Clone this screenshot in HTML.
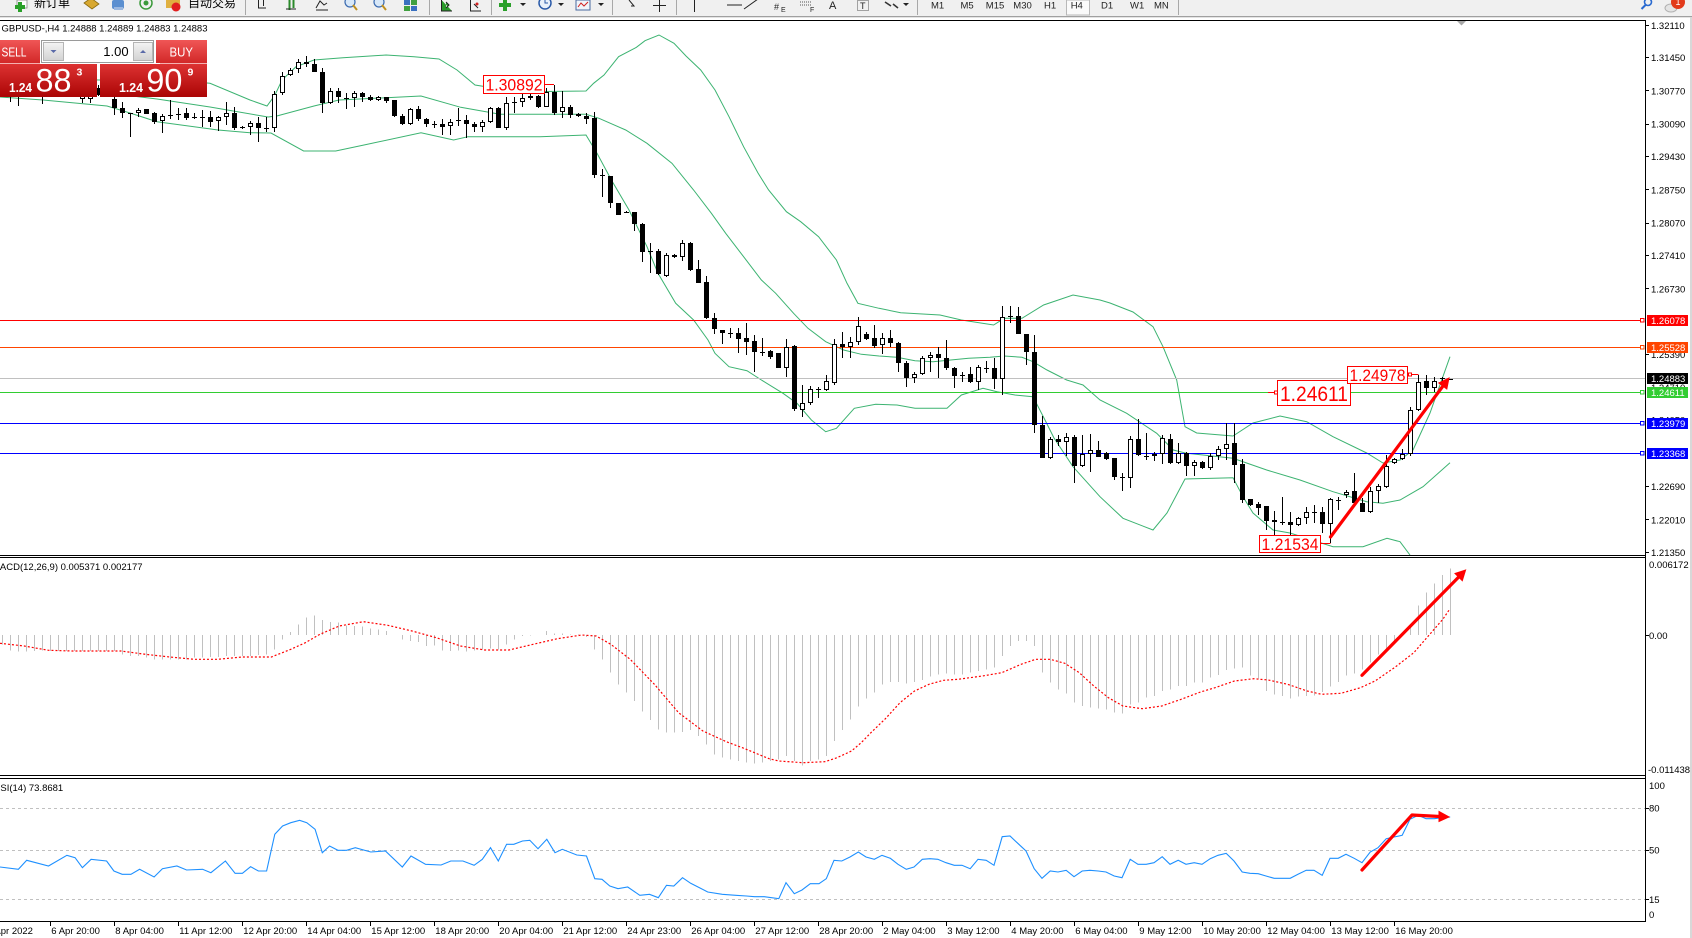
<!DOCTYPE html>
<html><head><meta charset="utf-8"><style>
html,body{margin:0;padding:0;background:#fff;}
svg{display:block;}
text{font-family:"Liberation Sans","Noto Sans CJK SC",sans-serif;}
</style></head><body>
<svg width="1692" height="938" viewBox="0 0 1692 938" xmlns="http://www.w3.org/2000/svg">
<defs>
<clipPath id="cm"><rect x="0" y="21" width="1645" height="534"/></clipPath>
<clipPath id="cd"><rect x="0" y="558" width="1645" height="217"/></clipPath>
<clipPath id="cr"><rect x="0" y="779" width="1645" height="142"/></clipPath>
<linearGradient id="gb" x1="0" y1="0" x2="0" y2="1"><stop offset="0" stop-color="#f05656"/><stop offset="1" stop-color="#d22828"/></linearGradient>
<linearGradient id="gp" x1="0" y1="0" x2="0" y2="1"><stop offset="0" stop-color="#dd3232"/><stop offset="1" stop-color="#ab0505"/></linearGradient>
<linearGradient id="gbt" x1="0" y1="0" x2="0" y2="1"><stop offset="0" stop-color="#f4f4f4"/><stop offset="1" stop-color="#d2d2d2"/></linearGradient>
</defs>
<rect x="0" y="0" width="1692" height="938" fill="#fff"/>

<!-- toolbar -->
<rect x="0" y="0" width="1692" height="16" fill="#f0f0f0"/>
<line x1="0" y1="16.5" x2="1692" y2="16.5" stroke="#a0a0a0"/>
<line x1="0" y1="17.5" x2="1692" y2="17.5" stroke="#e4e4e4"/>
<rect x="17" y="0" width="10" height="8" fill="#fff" stroke="#888" stroke-width="0.8"/>
<rect x="18" y="2" width="4" height="10" fill="#2aa02a"/><rect x="15" y="5" width="10" height="4" fill="#2aa02a"/>
<text x="34" y="7" font-size="12" fill="#000">新订单</text>
<polygon points="84,3 91,-2 99,4 92,9" fill="#d8a830" stroke="#8a6a10" stroke-width="0.8"/>
<rect x="112" y="0" width="12" height="9" rx="2" fill="#5b8fd0"/><rect x="114" y="7" width="9" height="3" fill="#9bb8e0"/>
<circle cx="146" cy="3" r="6" fill="none" stroke="#3a9a3a" stroke-width="1.5"/><circle cx="146" cy="3" r="2.5" fill="#3a9a3a"/>
<rect x="166" y="0" width="14" height="8" fill="#e0b040"/><circle cx="176" cy="7" r="4.5" fill="#e02020"/>
<text x="188" y="7" font-size="12" fill="#000">自动交易</text>
<g stroke="#a8a8a8"><line x1="245.5" y1="0" x2="245.5" y2="15"/><line x1="429.5" y1="0" x2="429.5" y2="15"/><line x1="491.5" y1="0" x2="491.5" y2="15"/><line x1="612.5" y1="0" x2="612.5" y2="15"/><line x1="676.5" y1="0" x2="676.5" y2="15"/><line x1="917.5" y1="0" x2="917.5" y2="15"/><line x1="1178.5" y1="0" x2="1178.5" y2="15"/></g>
<g stroke="#222" fill="none">
<path d="M258.5 0V8H266M263.5 0V6"/><path d="M289.5 0V10M293.5 0V8" stroke="#2a8a2a" stroke-width="2"/><path d="M286 9H296"/>
<path d="M316 8L320 1L324 5L327 3"/><path d="M316 10H328"/>
<path d="M727 5H742"/><path d="M744 9L758 -1"/><path d="M694.5 0V12"/>
<path d="M629 0L634 6L631 6"/><path d="M659.5 0V12M653 5.5H666"/>
</g>
<circle cx="350" cy="2" r="5" fill="#d8e8f8" stroke="#3a6ab0" stroke-width="1.2"/><line x1="353" y1="5" x2="357" y2="10" stroke="#c09020" stroke-width="2"/>
<circle cx="379" cy="2" r="5" fill="#d8e8f8" stroke="#3a6ab0" stroke-width="1.2"/><line x1="382" y1="5" x2="386" y2="10" stroke="#c09020" stroke-width="2"/>
<rect x="404" y="0" width="6" height="5" fill="#3a70c0"/><rect x="411" y="0" width="6" height="5" fill="#40a040"/><rect x="404" y="6" width="6" height="5" fill="#40a040"/><rect x="411" y="6" width="6" height="5" fill="#3a70c0"/>
<path d="M441.5 0V11H452M446 2L449 5L446 8" stroke="#222" fill="#2a9a2a"/>
<path d="M470.5 0V11H481M474 4L478 8" stroke="#222" fill="none"/><circle cx="477" cy="4" r="1.5" fill="#d02020"/>
<rect x="503" y="0" width="4" height="11" fill="#2aa02a"/><rect x="499" y="3" width="12" height="4" fill="#2aa02a"/><polygon points="520,3 526,3 523,6" fill="#222"/>
<circle cx="545" cy="3" r="6" fill="#e8f0fa" stroke="#2a5aa8" stroke-width="1.5"/><path d="M545 0V3H548" stroke="#2a5aa8" fill="none"/><polygon points="558,3 564,3 561,6" fill="#222"/>
<rect x="576" y="0" width="14" height="10" fill="#f0f4fa" stroke="#4a6aa0"/><path d="M578 7L581 3L584 6L588 2" stroke="#d02020" fill="none"/><polygon points="598,3 604,3 601,6" fill="#222"/>
<text x="774" y="10" font-size="9" fill="#222">#</text><text x="781" y="12" font-size="7" fill="#222">E</text>
<path d="M800 2H812M800 5H812" stroke="#555" stroke-dasharray="1 1"/><text x="810" y="12" font-size="7" fill="#222">F</text>
<text x="829" y="9" font-size="11" fill="#222">A</text>
<rect x="857.5" y="0.5" width="11" height="10" fill="none" stroke="#555" stroke-dasharray="1 1"/><text x="860" y="9" font-size="9" fill="#222">T</text>
<path d="M885 2L891 6M893 4L898 8" stroke="#333" stroke-width="1.6"/><polygon points="903,3 909,3 906,6" fill="#222"/>
<rect x="1066.5" y="0" width="23" height="15" fill="#fafafa" stroke="#b8b8b8"/>
<g font-size="9.5" fill="#222">
<text x="931" y="8.5">M1</text><text x="960.5" y="8.5">M5</text><text x="985.8" y="8.5">M15</text><text x="1013.3" y="8.5">M30</text><text x="1044" y="8.5">H1</text><text x="1070.7" y="8.5">H4</text><text x="1101" y="8.5">D1</text><text x="1130" y="8.5">W1</text><text x="1154" y="8.5">MN</text>
</g>
<circle cx="1648" cy="2" r="3.5" fill="none" stroke="#2a6ad0" stroke-width="1.6"/><line x1="1645.5" y1="5" x2="1641.5" y2="9" stroke="#2a6ad0" stroke-width="2"/>
<ellipse cx="1671" cy="8" rx="6" ry="4" fill="#e4e4e4" stroke="#b0b0b0"/>
<circle cx="1678" cy="2" r="7" fill="#e23a1a"/><text x="1675.5" y="5" font-size="9" fill="#fff">1</text>

<!-- right strip -->
<rect x="1690" y="17" width="2" height="921" fill="#d8d8d8"/>

<!-- title -->
<text x="1.5" y="31.5" font-size="9.5" fill="#000">GBPUSD-,H4  1.24888 1.24889 1.24883 1.24883</text>

<!-- main chart -->
<g clip-path="url(#cm)">
<g fill="none" stroke="#3cb371" stroke-width="1">
<polyline points="0,78 100,80 207,83 210,83.3 250,100 267,106 275,95 282,80 296,66.7 314,60 343,57.7 386,55 414,56.7 439,59 457,70 475,85 486,86.7 546,91.5 586,91 593.6,83.3 604,75 618.6,56.7 636.4,47.3 645,40.7 659,35 674,43.3 686,56 700.7,70 715,90 729,116.7 743.6,146.7 758,173 768.6,190 786.4,211.7 800.7,221.7 818.6,236.7 836.4,260 847,283.3 857.9,303.3 879,308.3 900.7,312.7 940,315 961.4,320 993.6,325 1004.3,318.3 1022,318.3 1043.6,305 1073,295 1100,300 1110,303 1133,312 1153,326.7 1163,346.7 1176.7,380 1185,426.7 1196.7,433 1233,436 1253,423 1280,416 1306.7,421.7 1333,436.7 1366.7,453 1383,463 1400,460 1413,450 1430,413 1450,356.7"/>
<polyline points="0,90 100,92 157,99 210,107 268,117 276.8,116 314,106 339,100 421,96 460.7,107.3 500,114.3 540,114.3 586,114.3 599,118.3 625.7,130 647,143.3 672,163.3 693.6,190 711.4,213.3 725.7,233.3 743.6,256.7 761.4,280 775.7,293.3 793.6,313.3 808,328.3 825.7,341.7 843.6,350 861.4,354.3 879,356 897,357.3 915,360.7 933,361.7 950.7,360 968.6,358.3 990,357.3 1004.3,356 1022,357.3 1033,361.7 1047,370 1066.7,380 1083,385 1100,400 1126.7,413.3 1156.7,433.3 1173.3,450 1186.7,453.3 1233,458.3 1266.7,470 1300,480 1333,491.7 1366.7,501.7 1383,503.3 1400,500 1423,486.7 1450,462.7"/>
<polyline points="0,97 43,100 107,106 130,113 157,121.7 218,130 250,132.7 271,133 303.6,151 335.7,151 364,145 421,132.7 453.6,140 468,136.7 540,136.7 586,135 597,153.3 611.4,180 629,210 647,246.7 658,273.3 675.7,303.3 693.6,320 708,340 715,353.3 729,366.7 747,370.7 761.4,380 783,393.3 797,403.3 811.4,420 825.7,431.7 836.4,428.3 854.3,408.3 875.7,404.3 897,405 915,408.3 947,408.3 961.4,395 983,388.3 997,391.7 1015,395 1033,396.7 1045,420 1054,438 1073,466.7 1100,496.7 1123,518.3 1153,530 1167,513 1185,479 1233,477.7 1243,496.7 1253,513 1273,530 1290,533 1333,546.7 1363,546.7 1387,538.3 1400,541.7 1410,555"/>
</g>
<g shape-rendering="crispEdges">
<line x1="0" y1="320.5" x2="1641" y2="320.5" stroke="#ff0000"/>
<line x1="0" y1="347.5" x2="1641" y2="347.5" stroke="#ff4500"/>
<line x1="0" y1="378.5" x2="1645" y2="378.5" stroke="#c0c0c0"/>
<line x1="0" y1="392.5" x2="1641" y2="392.5" stroke="#32cd32"/>
<line x1="0" y1="423.5" x2="1641" y2="423.5" stroke="#0000ff"/>
<line x1="0" y1="453.5" x2="1641" y2="453.5" stroke="#0000ff"/>
</g>
<g fill="#fff" shape-rendering="crispEdges">
<rect x="1640.5" y="318.5" width="3.5" height="3.5" stroke="#ff0000"/>
<rect x="1640.5" y="345.5" width="3.5" height="3.5" stroke="#ff4500"/>
<rect x="1640.5" y="390.5" width="3.5" height="3.5" stroke="#32cd32"/>
<rect x="1640.5" y="421.5" width="3.5" height="3.5" stroke="#0000ff"/>
<rect x="1640.5" y="451.5" width="3.5" height="3.5" stroke="#0000ff"/>
</g>
<g shape-rendering="crispEdges">
<path stroke="#000" stroke-width="1" fill="none" d="M2.5 84V96M10.5 86V102M18.5 86V106M26.5 83V95M34.5 84V95M42.5 86V104M50.5 82V95M58.5 85V94M66.5 83V95M74.5 85V96M82.5 88V103M90.5 89V103M98.5 85V96M106.5 87V96M114.5 97V115M122.5 102V118M130.5 113V137M138.5 108V117M146.5 109V114M154.5 112V124M162.5 114V133M170.5 100V119M178.5 108V120M186.5 108V120M194.5 113V119M202.5 110V127M210.5 111V127M218.5 116V131M226.5 102V125M234.5 107V130M242.5 126V129M250.5 121V135M258.5 117V142M266.5 117V132M274.5 91V132M282.5 72V95M290.5 68V76M298.5 59V73M306.5 56V67M314.5 59V72M322.5 68V113M330.5 88V104M338.5 88V103M346.5 93V109M354.5 91V107M362.5 92V102M370.5 95V101M378.5 96V101M386.5 97V103M394.5 100V117M402.5 114V125M410.5 108V125M418.5 106V121M426.5 118V127M434.5 121V128M442.5 119V135M450.5 119V135M458.5 108V126M466.5 115V138M474.5 122V132M482.5 120V132M490.5 107V123M498.5 107V128M506.5 97V130M514.5 97V113M522.5 94V107M530.5 93V100M538.5 95V108M546.5 88V107M554.5 85V115M562.5 91V118M570.5 105V118M578.5 113V117M586.5 113V124M594.5 112V178M602.5 169V197M610.5 176V208M618.5 203V215M626.5 211V213M634.5 212V231M642.5 223V262M650.5 243V273M658.5 249V275M666.5 253V277M674.5 254V258M682.5 240V261M690.5 242V271M698.5 260V283M706.5 276V319M714.5 313V334M722.5 330V344M730.5 328V338M738.5 328V353M746.5 323V355M754.5 335V372M762.5 338V356M770.5 350V359M778.5 353V368M786.5 339V377M794.5 345V411M802.5 385V417M810.5 386V405M818.5 387V398M826.5 375V391M834.5 339V385M842.5 332V358M850.5 337V358M858.5 317V345M866.5 332V340M874.5 325V348M882.5 333V354M890.5 330V347M898.5 342V372M906.5 361V387M914.5 372V383M922.5 356V375M930.5 352V372M938.5 347V378M946.5 340V370M954.5 367V388M962.5 372V382M970.5 367V383M978.5 365V390M986.5 361V373M994.5 358V389M1002.5 306V395M1010.5 306V323M1018.5 307V334M1026.5 334V365M1034.5 335V433M1042.5 416V458M1050.5 437V459M1058.5 435V446M1066.5 433V456M1074.5 435V483M1082.5 435V467M1090.5 434V472M1098.5 441V457M1106.5 452V460M1114.5 458V480M1122.5 473V491M1130.5 436V488M1138.5 419V456M1146.5 433V460M1154.5 452V461M1162.5 435V464M1170.5 434V464M1178.5 443V464M1186.5 452V476M1194.5 460V476M1202.5 461V469M1210.5 453V470M1218.5 446V460M1226.5 423V460M1234.5 423V483M1242.5 459V503M1250.5 499V506M1258.5 502V515M1266.5 506V530M1274.5 511V537M1282.5 497V525M1290.5 512V535M1298.5 517V526M1306.5 507V524M1314.5 505V523M1322.5 507V533M1330.5 498V543M1338.5 497V510M1346.5 490V498M1354.5 473V504M1362.5 498V512M1370.5 487V513M1378.5 484V503M1386.5 455V488M1394.5 458V464M1402.5 449V460M1410.5 407V456M1418.5 375V411M1426.5 375V395M1434.5 377V392M1442.5 377V382M56 88.5h5M128 113.5h5M168 115.5h5M176 114.5h5M192 117.5h5M200 117.5h5M240 127.5h5M264 128.5h5M344 98.5h5M432 124.5h5M456 120.5h5M512 102.5h5M600 175.5h5M624 212.5h5M648 251.5h5M728 333.5h5M760 352.5h5M816 389.5h5M960 375.5h5M984 368.5h5M1008 316.5h5M1120 477.5h5M1144 456.5h5M1280 522.5h5M1312 512.5h5M1336 500.5h5M1440 378.5h5M1448 379.5h5"/>
<path fill="#000" d="M0 88h5v7h-5zM8 90h5v6h-5zM24 86h5v6h-5zM40 90h5v6h-5zM64 86h5v6h-5zM96 88h5v7h-5zM112 99h5v9h-5zM120 108h5v5h-5zM144 109h5v5h-5zM152 113h5v9h-5zM184 113h5v5h-5zM208 117h5v5h-5zM232 113h5v15h-5zM256 123h5v5h-5zM304 62h5v2h-5zM312 64h5v8h-5zM320 72h5v31h-5zM336 91h5v6h-5zM360 93h5v4h-5zM368 97h5v3h-5zM384 97h5v4h-5zM392 100h5v16h-5zM400 116h5v8h-5zM416 109h5v10h-5zM424 119h5v5h-5zM440 124h5v3h-5zM464 120h5v4h-5zM472 124h5v3h-5zM496 108h5v20h-5zM536 96h5v11h-5zM552 92h5v21h-5zM568 107h5v8h-5zM576 114h5v2h-5zM584 116h5v3h-5zM592 118h5v57h-5zM608 176h5v27h-5zM616 203h5v12h-5zM632 212h5v12h-5zM640 224h5v28h-5zM656 251h5v23h-5zM672 255h5v2h-5zM688 243h5v27h-5zM696 269h5v14h-5zM704 282h5v36h-5zM712 318h5v11h-5zM720 330h5v3h-5zM736 333h5v6h-5zM744 338h5v4h-5zM752 341h5v11h-5zM768 351h5v6h-5zM776 353h5v15h-5zM792 346h5v63h-5zM840 344h5v3h-5zM864 334h5v5h-5zM872 338h5v8h-5zM888 338h5v5h-5zM896 343h5v20h-5zM904 363h5v15h-5zM936 354h5v4h-5zM944 358h5v10h-5zM952 368h5v8h-5zM968 374h5v8h-5zM992 368h5v11h-5zM1016 316h5v18h-5zM1024 334h5v18h-5zM1032 352h5v73h-5zM1040 425h5v33h-5zM1056 439h5v3h-5zM1072 437h5v29h-5zM1096 450h5v7h-5zM1104 453h5v6h-5zM1112 458h5v19h-5zM1136 439h5v16h-5zM1168 439h5v24h-5zM1184 453h5v13h-5zM1200 462h5v6h-5zM1232 443h5v22h-5zM1240 464h5v36h-5zM1248 499h5v6h-5zM1256 504h5v4h-5zM1264 506h5v15h-5zM1272 520h5v2h-5zM1288 522h5v3h-5zM1320 512h5v12h-5zM1352 491h5v12h-5zM1360 503h5v9h-5zM1424 381h5v7h-5z"/>
<path fill="#fff" stroke="#000" stroke-width="1" d="M16.5 90.5h4v5h-4zM32.5 86.5h4v5h-4zM48.5 85.5h4v4h-4zM72.5 88.5h4v4h-4zM80.5 92.5h4v6h-4zM88.5 93.5h4v5h-4zM104.5 90.5h4v5h-4zM136.5 110.5h4v2h-4zM160.5 116.5h4v4h-4zM216.5 117.5h4v3h-4zM224.5 113.5h4v3h-4zM248.5 123.5h4v3h-4zM272.5 94.5h4v33h-4zM280.5 76.5h4v16h-4zM288.5 70.5h4v4h-4zM296.5 62.5h4v6h-4zM328.5 91.5h4v11h-4zM352.5 93.5h4v4h-4zM376.5 97.5h4v2h-4zM408.5 109.5h4v14h-4zM448.5 122.5h4v3h-4zM480.5 122.5h4v4h-4zM488.5 108.5h4v13h-4zM504.5 103.5h4v24h-4zM520.5 98.5h4v3h-4zM528.5 96.5h4v1h-4zM544.5 92.5h4v14h-4zM560.5 107.5h4v4h-4zM664.5 255.5h4v20h-4zM680.5 243.5h4v13h-4zM784.5 347.5h4v20h-4zM800.5 403.5h4v6h-4zM808.5 389.5h4v13h-4zM824.5 381.5h4v8h-4zM832.5 344.5h4v38h-4zM848.5 342.5h4v4h-4zM856.5 326.5h4v15h-4zM880.5 338.5h4v6h-4zM912.5 374.5h4v3h-4zM920.5 358.5h4v15h-4zM928.5 355.5h4v2h-4zM976.5 367.5h4v14h-4zM1000.5 317.5h4v61h-4zM1048.5 439.5h4v18h-4zM1064.5 437.5h4v4h-4zM1080.5 454.5h4v11h-4zM1088.5 450.5h4v3h-4zM1128.5 439.5h4v38h-4zM1152.5 454.5h4v1h-4zM1160.5 438.5h4v15h-4zM1176.5 453.5h4v9h-4zM1192.5 462.5h4v3h-4zM1208.5 456.5h4v11h-4zM1216.5 449.5h4v6h-4zM1224.5 444.5h4v4h-4zM1296.5 518.5h4v6h-4zM1304.5 512.5h4v5h-4zM1328.5 499.5h4v24h-4zM1344.5 492.5h4v2h-4zM1368.5 491.5h4v20h-4zM1376.5 486.5h4v4h-4zM1384.5 466.5h4v20h-4zM1392.5 459.5h4v3h-4zM1400.5 454.5h4v4h-4zM1408.5 410.5h4v43h-4zM1416.5 382.5h4v27h-4zM1432.5 381.5h4v6h-4z"/>
</g>
<!-- price labels -->
<g shape-rendering="crispEdges" stroke="#ff0000" fill="none">
<line x1="544.5" y1="84.5" x2="554" y2="84.5"/>
<line x1="1268" y1="392.5" x2="1278" y2="392.5"/>
<rect x="1274.5" y="391" width="3" height="3" fill="#fff"/>
<line x1="1407.5" y1="374.5" x2="1418.5" y2="374.5"/>
<rect x="1408.5" y="373" width="3" height="3" fill="#fff"/>
<line x1="1320.5" y1="543.5" x2="1330.5" y2="543.5"/>
<rect x="483.5" y="75.5" width="61" height="18" fill="#fff"/>
<rect x="1277.5" y="380.5" width="73" height="25" fill="#fff"/>
<rect x="1347.5" y="366.5" width="60" height="17" fill="#fff"/>
<rect x="1259.5" y="535.5" width="61" height="17" fill="#fff"/>
</g>
<g fill="#ff0000">
<text x="485.5" y="90.5" font-size="17" textLength="57" lengthAdjust="spacingAndGlyphs">1.30892</text>
<text x="1280" y="401" font-size="21" textLength="68" lengthAdjust="spacingAndGlyphs">1.24611</text>
<text x="1349.5" y="381" font-size="17" textLength="56" lengthAdjust="spacingAndGlyphs">1.24978</text>
<text x="1261.5" y="550" font-size="17" textLength="57" lengthAdjust="spacingAndGlyphs">1.21534</text>
</g>
<!-- arrow main -->
<line x1="1330.5" y1="537" x2="1443" y2="386" stroke="#ff0000" stroke-width="3.2" stroke-linecap="round"/>
<polygon points="1449,378 1446.8,389 1438.8,383" fill="#ff0000" stroke="#ff0000" stroke-width="1"/>
</g>
<polygon points="1457,21 1466,21 1461.5,25.5" fill="#a8a8a8"/>

<!-- MACD -->
<g clip-path="url(#cd)">
<path shape-rendering="crispEdges" stroke="#c0c0c0" stroke-width="1" fill="none" d="M2.5 635V644.3M10.5 635V650.3M18.5 635V651.7M26.5 635V651.7M34.5 635V651M42.5 635V650.3M50.5 635V651M58.5 635V651M66.5 635V651M74.5 635V651M82.5 635V651M90.5 635V651M98.5 635V651M106.5 635V651M114.5 635V651M122.5 635V654.3M130.5 635V656M138.5 635V656M146.5 635V657.7M154.5 635V659.3M162.5 635V659.3M170.5 635V659.3M178.5 635V659.3M186.5 635V659.3M194.5 635V657.7M202.5 635V657.7M210.5 635V657M218.5 635V657M226.5 635V656M234.5 635V656M242.5 635V656M250.5 635V656M258.5 635V655M266.5 635V654.3M274.5 635V649.3M282.5 635V639.3M290.5 635V632M298.5 635V624.3M306.5 635V617.7M314.5 635V615.3M322.5 635V620M330.5 635V622M338.5 635V622.7M346.5 635V625.3M354.5 635V626M362.5 635V626.7M370.5 635V628.7M378.5 635V629.3M386.5 635V631M394.5 635V635M402.5 635V639.3M410.5 635V641M418.5 635V642M426.5 635V646M434.5 635V645.3M442.5 635V650.3M450.5 635V651M458.5 635V650.3M466.5 635V651.7M474.5 635V650.3M482.5 635V649.3M490.5 635V648.3M498.5 635V649.3M506.5 635V644.3M514.5 635V639.3M522.5 635V636M530.5 635V635.3M538.5 635V635M546.5 635V631M554.5 635V633.3M562.5 635V633.3M570.5 635V634.3M578.5 635V634.3M586.5 635V637M594.5 635V649.3M602.5 635V659.3M610.5 635V672.7M618.5 635V684.3M626.5 635V692.7M634.5 635V701M642.5 635V711.7M650.5 635V720M658.5 635V729.3M666.5 635V732.7M674.5 635V732.7M682.5 635V732M690.5 635V730M698.5 635V736M706.5 635V744.3M714.5 635V754.3M722.5 635V757.7M730.5 635V759.3M738.5 635V761M746.5 635V762.5M754.5 635V763.5M762.5 635V762.7M770.5 635V761M778.5 635V759.3M786.5 635V756M794.5 635V761M802.5 635V765.3M810.5 635V761M818.5 635V759.3M826.5 635V756M834.5 635V741M842.5 635V730M850.5 635V719.3M858.5 635V706.7M866.5 635V698.7M874.5 635V692.7M882.5 635V684.3M890.5 635V682M898.5 635V682M906.5 635V683.7M914.5 635V682M922.5 635V680M930.5 635V676.7M938.5 635V674.3M946.5 635V673.3M954.5 635V674.3M962.5 635V674.3M970.5 635V672.7M978.5 635V671M986.5 635V669.3M994.5 635V667.7M1002.5 635V656M1010.5 635V646M1018.5 635V641M1026.5 635V641M1034.5 635V646M1042.5 635V672.7M1050.5 635V682.7M1058.5 635V689.3M1066.5 635V693.3M1074.5 635V702.7M1082.5 635V706M1090.5 635V707.7M1098.5 635V708.7M1106.5 635V709.3M1114.5 635V712.7M1122.5 635V713.3M1130.5 635V704.3M1138.5 635V702.7M1146.5 635V697.7M1154.5 635V696M1162.5 635V691M1170.5 635V689.3M1178.5 635V686M1186.5 635V686M1194.5 635V682.7M1202.5 635V682.7M1210.5 635V677.7M1218.5 635V675M1226.5 635V670M1234.5 635V668.7M1242.5 635V667.7M1250.5 635V675.3M1258.5 635V678.7M1266.5 635V691M1274.5 635V694.3M1282.5 635V696M1290.5 635V698.7M1298.5 635V696.7M1306.5 635V696M1314.5 635V695.3M1322.5 635V692M1330.5 635V686.7M1338.5 635V682M1346.5 635V675.3M1354.5 635V673.3M1362.5 635V669.3M1370.5 635V662.7M1378.5 635V654.3M1386.5 635V649.3M1394.5 635V641M1402.5 635V635M1410.5 635V627.7M1418.5 635V605.3M1426.5 635V592.7M1434.5 635V583.3M1442.5 635V575M1450.5 635V568.7"/>
<polyline fill="none" stroke="#ff0000" stroke-width="1.2" stroke-dasharray="2 2" points="0,643.3 24.2,646 48.5,650.3 72.7,651 121,651 145.4,654.3 169.7,657 193.9,659.3 218,659.3 242.4,657 271.4,657 290.8,649.3 305.4,642.7 319.9,634.3 339.3,626 363.5,621.7 387.8,625.3 412,631 436.3,637.7 460.5,646 484.7,650 509,650 533.2,644.3 557.4,638.7 581.7,635 596.2,636 610.8,644.3 630.2,659.3 654.4,684.3 678.6,712.7 702.9,731 727,742 742.4,747.7 754.5,752.7 769.1,758.7 778.8,761 803,762.7 824.8,761.7 837,757.7 851.5,751 861.2,742.7 870.9,732.7 885.4,718.7 900,702.7 914.5,691 929,684.3 943.6,680.3 958.1,679.3 982.4,676 1001.8,672.7 1021.1,664.3 1035.7,659.3 1050.2,659.3 1064.8,663.3 1079.3,672.7 1093.8,686 1108.4,697.7 1122.9,706 1142.3,708.7 1161.7,706 1181.1,699.3 1200.5,692 1215,687.7 1234.4,681 1253.8,678.7 1268.3,680 1287.7,684.3 1307.1,691 1321.6,694.3 1341,693.3 1360.5,687.7 1375,681 1394.4,667.7 1413.8,652.7 1428.3,636 1442.8,619.3 1450,608.7"/>
<line x1="1362" y1="675.3" x2="1458.6" y2="577.1" stroke="#ff0000" stroke-width="3.2" stroke-linecap="round"/>
<polygon points="1465.6,570 1462.3,580.7 1455,573.5" fill="#ff0000" stroke="#ff0000"/>
</g>
<text x="-8" y="570" font-size="9.5" fill="#000">MACD(12,26,9) 0.005371 0.002177</text>

<!-- RSI -->
<g clip-path="url(#cr)">
<g stroke="#c0c0c0" stroke-dasharray="3 3" shape-rendering="crispEdges">
<line x1="0" y1="808.5" x2="1645" y2="808.5"/>
<line x1="0" y1="850.5" x2="1645" y2="850.5"/>
<line x1="0" y1="899.5" x2="1645" y2="899.5"/>
</g>
<polyline fill="none" stroke="#1e90ff" stroke-width="1.1" points="0,867 18.4,869.3 26.7,860.3 48.5,866 66.9,855.3 75.1,857.7 82.4,867.7 91.1,859.3 106.6,861 113.9,871 122.2,874.3 130.9,874.3 139.6,869.3 154.1,877 162.4,868.7 176.9,866 186.6,870 202.6,869.3 210.9,872.7 225.4,861 235.1,873.3 242.4,873.3 250.6,866.7 258.4,871 266.6,871 274.8,834.3 282.6,826 290.8,822.7 299.6,820.3 306.8,822.7 315.1,829.3 322.3,852.7 329.6,846 337.9,850.3 346.6,850.3 355.3,847.7 370.8,852 385.4,851 402.3,867 411,856 425.6,864.3 441.1,865 450.8,861 462.9,861 474.1,865.3 482.3,859.3 490.5,847.7 498.3,861 506.6,844.3 513.8,844.3 522.5,841 529.8,840.3 538,848.7 546.8,839.3 555,852.7 562.3,849.3 576.8,855 586.5,856 594.8,878.7 602,879.3 609.8,886 618,888.7 627.7,887 639.8,895.3 649.5,894.3 658.3,897.7 666.5,885.3 673.8,886 682.5,877.7 690.7,883.3 699.5,887.7 707.7,892 722.3,894.3 735.8,895.3 746.5,896 754.5,896.7 764.2,896.7 778.8,898.7 786,882.7 794.3,893.7 802,890 810.3,883.7 819,883.7 826.3,878.7 834,860.3 841.8,861 850,857 858.3,852 866,857 874.3,859.3 882,855.3 890.3,858.3 898,864.3 906.3,869.3 914,867 922.3,859.3 930,858.7 937.8,859.3 946,862.7 954.3,865.3 962,865.3 970.2,868.7 978,859.3 986.2,860.3 994,865.3 1002.2,836.7 1010,836 1018.2,843.7 1026,851 1034.2,868.7 1042,878.3 1050.2,871 1058,872 1066.2,870.3 1074,876.7 1082.2,871 1090,870.3 1098.2,871 1106,872 1114.2,876 1122,877.7 1130.2,859.3 1138,864.3 1146.2,864.3 1154,862.7 1162.2,856.7 1170,864.3 1178.2,860.3 1186,864.3 1194.2,862.7 1202,864.3 1210.2,858.7 1218,855.3 1226.2,853.3 1234,861 1242.2,872 1250,873.3 1258.2,873.7 1266,876 1274.2,878.3 1282,878.3 1290.2,878.3 1298,874.3 1306.2,870.3 1314,870.3 1322.2,875.3 1330,858.3 1338.2,858.3 1346,854.3 1354.2,858.3 1362,862.7 1370.2,852 1378,847.7 1386.2,838.7 1394,837 1402.2,835.3 1410,819.3 1418.2,815.3 1426,818.7 1434.2,818.7 1442,817.7 1450.2,817"/>
<polyline fill="none" stroke="#ff0000" stroke-width="3.2" stroke-linejoin="round" stroke-linecap="round" points="1362,870 1412,815 1440,816.5"/>
<polygon points="1449,817 1439,811.5 1439,821.5" fill="#ff0000" stroke="#ff0000"/>
</g>
<text x="-6.5" y="791" font-size="9.5" fill="#000">RSI(14) 73.8681</text>

<!-- frames -->
<g stroke="#000" shape-rendering="crispEdges" stroke-width="1">
<line x1="0" y1="20.5" x2="1646" y2="20.5"/>
<line x1="1645.5" y1="20" x2="1645.5" y2="922"/>
<line x1="0" y1="555.5" x2="1646" y2="555.5"/>
<line x1="0" y1="557.5" x2="1646" y2="557.5"/>
<line x1="0" y1="775.5" x2="1646" y2="775.5"/>
<line x1="0" y1="778.5" x2="1646" y2="778.5"/>
<line x1="0" y1="921.5" x2="1646" y2="921.5"/>
<path d="M1645 25.5h4M1645 57.5h4M1645 90.5h4M1645 124.5h4M1645 156.5h4M1645 189.5h4M1645 223.5h4M1645 255.5h4M1645 288.5h4M1645 354.5h4M1645 486.5h4M1645 519.5h4M1645 552.5h4M1645 635.5h4M1645 808.5h4M1645 850.5h4M1645 899.5h4"/>
<path d="M50.5 922v4M114.5 922v4M178.5 922v4M242.5 922v4M306.5 922v4M370.5 922v4M434.5 922v4M498.5 922v4M562.5 922v4M626.5 922v4M690.5 922v4M754.5 922v4M818.5 922v4M882.5 922v4M946.5 922v4M1010.5 922v4M1074.5 922v4M1138.5 922v4M1202.5 922v4M1266.5 922v4M1330.5 922v4M1394.5 922v4"/>
</g>

<!-- price axis -->
<g font-size="9.5" fill="#000">
<text x="1651" y="28.8">1.32110</text>
<text x="1651" y="61.1">1.31450</text>
<text x="1651" y="94.4">1.30770</text>
<text x="1651" y="127.7">1.30090</text>
<text x="1651" y="160.1">1.29430</text>
<text x="1651" y="193.4">1.28750</text>
<text x="1651" y="226.7">1.28070</text>
<text x="1651" y="259">1.27410</text>
<text x="1651" y="292.3">1.26730</text>
<text x="1651" y="357.9">1.25390</text>
<text x="1651" y="391.2">1.24710</text>
<text x="1651" y="423.5">1.24050</text>
<text x="1651" y="456.8">1.23370</text>
<text x="1651" y="490.1">1.22690</text>
<text x="1651" y="523.4">1.22010</text>
<text x="1651" y="556">1.21350</text>
<text x="1649" y="567.8">0.006172</text>
<text x="1649" y="639.2">0.00</text>
<text x="1648" y="772.8">-0.011438</text>
<text x="1649" y="789.2">100</text>
<text x="1649" y="811.5">80</text>
<text x="1649" y="853.5">50</text>
<text x="1649" y="902.8">15</text>
<text x="1649" y="917.8">0</text>
</g>
<g shape-rendering="crispEdges">
<rect x="1647" y="315" width="41" height="11" fill="#ff0000"/>
<rect x="1647" y="342" width="41" height="11" fill="#ff4500"/>
<rect x="1647" y="373" width="41" height="11" fill="#000000"/>
<rect x="1647" y="387" width="41" height="11" fill="#32cd32"/>
<rect x="1647" y="418" width="41" height="11" fill="#0000ff"/>
<rect x="1647" y="448" width="41" height="11" fill="#0000ff"/>
</g>
<g font-size="9.5" fill="#fff">
<text x="1651" y="324">1.26078</text>
<text x="1651" y="351">1.25528</text>
<text x="1651" y="382">1.24883</text>
<text x="1651" y="396">1.24611</text>
<text x="1651" y="427">1.23979</text>
<text x="1651" y="457">1.23368</text>
</g>

<!-- time axis -->
<g font-size="9.5" fill="#000">
<text x="-13" y="934">5 Apr 2022</text>
<text x="51.3" y="934">6 Apr 20:00</text>
<text x="115.3" y="934">8 Apr 04:00</text>
<text x="179.3" y="934">11 Apr 12:00</text>
<text x="243.3" y="934">12 Apr 20:00</text>
<text x="307.3" y="934">14 Apr 04:00</text>
<text x="371.3" y="934">15 Apr 12:00</text>
<text x="435.3" y="934">18 Apr 20:00</text>
<text x="499.3" y="934">20 Apr 04:00</text>
<text x="563.3" y="934">21 Apr 12:00</text>
<text x="627.3" y="934">24 Apr 23:00</text>
<text x="691.3" y="934">26 Apr 04:00</text>
<text x="755.3" y="934">27 Apr 12:00</text>
<text x="819.3" y="934">28 Apr 20:00</text>
<text x="883.3" y="934">2 May 04:00</text>
<text x="947.3" y="934">3 May 12:00</text>
<text x="1011.3" y="934">4 May 20:00</text>
<text x="1075.3" y="934">6 May 04:00</text>
<text x="1139.3" y="934">9 May 12:00</text>
<text x="1203.3" y="934">10 May 20:00</text>
<text x="1267.3" y="934">12 May 04:00</text>
<text x="1331.3" y="934">13 May 12:00</text>
<text x="1395.3" y="934">16 May 20:00</text>
</g>

<!-- one-click trading panel -->
<rect x="0" y="40" width="40" height="23" fill="url(#gb)"/>
<line x1="0" y1="63.5" x2="40" y2="63.5" stroke="#f4b0b0"/>
<text x="1.5" y="56.5" font-size="13" fill="#fff" textLength="25" lengthAdjust="spacingAndGlyphs">SELL</text>
<rect x="41.5" y="40.5" width="112" height="22" fill="#fff" stroke="#9a9a9a"/>
<rect x="43.5" y="42.5" width="20" height="18" fill="url(#gbt)" stroke="#b5b5b5"/>
<polygon points="50.5,50 56.5,50 53.5,53" fill="#5a6aa8"/>
<rect x="133.5" y="42.5" width="19" height="18" fill="url(#gbt)" stroke="#b5b5b5"/>
<polygon points="140,53 146,53 143,50" fill="#5a6aa8"/>
<text x="128.6" y="56" font-size="13" fill="#000" text-anchor="end">1.00</text>
<rect x="156" y="40" width="51" height="23" fill="url(#gb)"/>
<line x1="160" y1="63.5" x2="207" y2="63.5" stroke="#f4b0b0"/>
<text x="169.5" y="56.5" font-size="13" fill="#fff" textLength="23.5" lengthAdjust="spacingAndGlyphs">BUY</text>
<rect x="0" y="64" width="97" height="33" fill="url(#gp)"/>
<rect x="100" y="64" width="107" height="33" fill="url(#gp)"/>
<g fill="#fff">
<text x="9" y="92" font-size="12.5" font-weight="bold" textLength="23" lengthAdjust="spacingAndGlyphs">1.24</text>
<text x="35.5" y="91.5" font-size="32" textLength="36" lengthAdjust="spacingAndGlyphs">88</text>
<text x="76.5" y="75.5" font-size="10.5" font-weight="bold">3</text>
<text x="119" y="92" font-size="12.5" font-weight="bold" textLength="24" lengthAdjust="spacingAndGlyphs">1.24</text>
<text x="146.4" y="91.5" font-size="32" textLength="36" lengthAdjust="spacingAndGlyphs">90</text>
<text x="187.5" y="75.5" font-size="10.5" font-weight="bold">9</text>
</g>
</svg>
</body></html>
